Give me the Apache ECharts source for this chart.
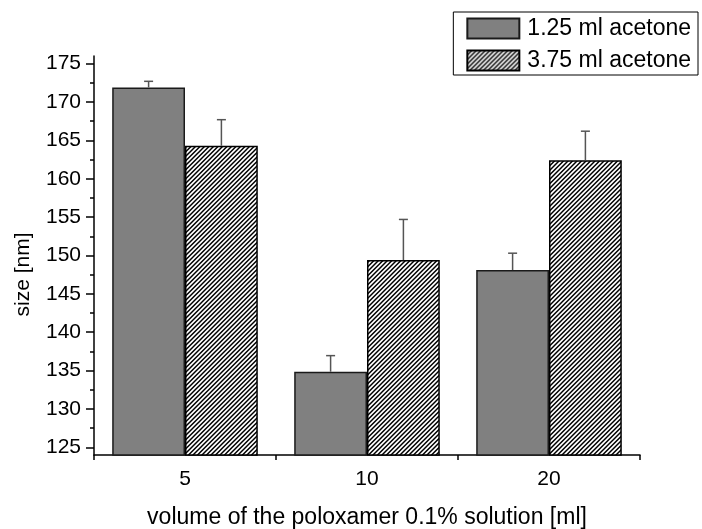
<!DOCTYPE html>
<html>
<head>
<meta charset="utf-8">
<script src="https://cdn.jsdelivr.net/npm/echarts@6/dist/echarts.min.js"></script>
<style>
  html, body { margin: 0; padding: 0; background: #fff; }
  #chart { width: 702px; height: 529px; }
</style>
</head>
<body>
<div id="chart"></div>
<script>
// Particle size vs. volume of poloxamer solution, two acetone volumes
const categories = ['5', '10', '20'];
const seriesNames = ['1.25 ml acetone', '3.75 ml acetone'];
const sizeLowAcetone = [171.9, 134.85, 148.1];
const errLowAcetone = [0.8, 2.1, 2.2];
const sizeHighAcetone = [164.3, 149.4, 162.4];
const errHighAcetone = [3.4, 5.3, 3.8];
const yMajorTicks = [125, 130, 135, 140, 145, 150, 155, 160, 165, 170, 175];
const yMinorTicks = [127.5, 132.5, 137.5, 142.5, 147.5, 152.5, 157.5, 162.5, 167.5, 172.5];

const FONT = "'Liberation Sans', Arial, sans-serif";
const FS = 21;

// diagonal "/" hatch tile
function makeHatch() {
  const n = 9;
  const c = document.createElement('canvas');
  c.width = n; c.height = n;
  const ctx = c.getContext('2d');
  ctx.fillStyle = '#fff';
  ctx.fillRect(0, 0, n, n);
  ctx.strokeStyle = '#000';
  ctx.lineWidth = 1.5;
  ctx.beginPath();
  for (let k = -4.5; k <= 22.5; k += 4.5) {
    ctx.moveTo(k + 1, -1);
    ctx.lineTo(k - n - 1, n + 1);
  }
  ctx.stroke();
  return c;
}
const hatch = { image: makeHatch(), repeat: 'repeat' };

// error bar data: [category index, value, error, side]
const errData = [];
categories.forEach((_, i) => {
  errData.push([i, sizeLowAcetone[i], errLowAcetone[i], -1]);
  errData.push([i, sizeHighAcetone[i], errHighAcetone[i], 1]);
});

const chart = echarts.init(document.getElementById('chart'));
chart.setOption({
  animation: false,
  backgroundColor: '#fff',
  textStyle: { fontFamily: FONT },
  grid: { left: 94, right: 62, top: 56, bottom: 74, outerBoundsMode: 'none', containLabel: false },
  legend: {
    orient: 'vertical',
    right: 4,
    top: 12,
    itemWidth: 52,
    itemHeight: 20,
    itemGap: 9,
    padding: [5, 7, 3, 13],
    borderColor: '#000',
    borderWidth: 1,
    icon: 'rect',
    textStyle: { fontFamily: FONT, fontSize: 23, color: '#000', padding: [0, 0, 0, 3] },
    data: seriesNames
  },
  xAxis: [
    {
      type: 'category',
      data: categories,
      position: 'bottom',
      axisLine: { lineStyle: { color: '#000', width: 1.5 } },
      axisTick: { alignWithLabel: true, length: 8, lineStyle: { color: '#000', width: 1.5 } },
      axisLabel: { color: '#000', fontSize: FS, fontFamily: FONT, margin: 14 },
      name: 'volume of the poloxamer 0.1% solution [ml]',
      nameLocation: 'middle',
      nameGap: 51,
      nameTextStyle: { color: '#000', fontSize: 23, fontFamily: FONT },
      splitLine: { show: false }
    },
    {
      type: 'category',
      data: categories,
      position: 'bottom',
      axisLine: { show: false },
      axisTick: { show: true, length: 5, lineStyle: { color: '#000', width: 1.5 } },
      axisLabel: { show: false },
      splitLine: { show: false }
    }
  ],
  yAxis: [
    {
      type: 'value',
      min: 124,
      max: 176,
      axisLine: { show: true, lineStyle: { color: '#000', width: 1.5 } },
      axisTick: { show: true, length: 8, customValues: yMajorTicks, lineStyle: { color: '#000', width: 1.5 } },
      axisLabel: { color: '#000', fontSize: FS, fontFamily: FONT, margin: 13, customValues: yMajorTicks },
      splitLine: { show: false },
      name: 'size [nm]',
      nameLocation: 'middle',
      nameGap: 60,
      nameTextStyle: { color: '#000', fontSize: FS, fontFamily: FONT, padding: [0, 38, 0, 0] }
    },
    {
      type: 'value',
      min: 124,
      max: 176,
      position: 'left',
      axisLine: { show: false },
      axisTick: { show: true, length: 4, customValues: yMinorTicks, lineStyle: { color: '#000', width: 1.5 } },
      axisLabel: { show: false },
      splitLine: { show: false }
    }
  ],
  series: [
    {
      name: seriesNames[0],
      type: 'bar',
      xAxisIndex: 0,
      yAxisIndex: 0,
      data: sizeLowAcetone,
      barGap: '0%',
      barCategoryGap: '20%',
      itemStyle: { color: '#808080', borderColor: '#1a1a1a', borderWidth: 1.5 }
    },
    {
      name: seriesNames[1],
      type: 'bar',
      xAxisIndex: 0,
      yAxisIndex: 0,
      data: sizeHighAcetone,
      barGap: '0%',
      barCategoryGap: '20%',
      itemStyle: { color: hatch, borderColor: '#000', borderWidth: 1.5 }
    },
    {
      type: 'custom',
      xAxisIndex: 0,
      yAxisIndex: 0,
      data: errData,
      z: 5,
      encode: { x: 0, y: 1 },
      renderItem: function (params, api) {
        const idx = api.value(0);
        const val = api.value(1);
        const err = api.value(2);
        const side = api.value(3);
        const w = api.size([1, 0])[0];
        const base = api.coord([idx, val]);
        const top = api.coord([idx, val + err]);
        const x = base[0] + side * 0.2 * w;
        const style = { stroke: '#555', lineWidth: 1.5 };
        return {
          type: 'group',
          children: [
            { type: 'line', shape: { x1: x, y1: base[1], x2: x, y2: top[1] }, style: style },
            { type: 'line', shape: { x1: x - 4.5, y1: top[1], x2: x + 4.5, y2: top[1] }, style: style }
          ]
        };
      }
    }
  ]
});
</script>
</body>
</html>
